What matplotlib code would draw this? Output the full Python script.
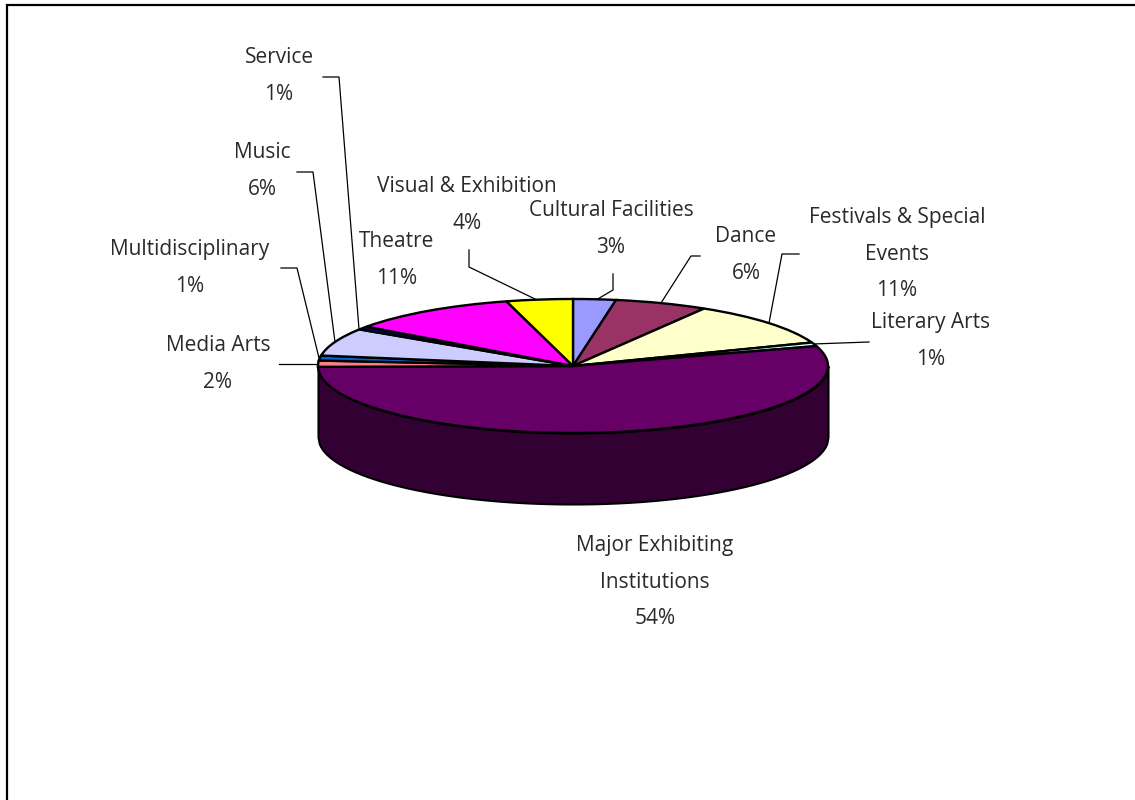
import numpy as np
import matplotlib
matplotlib.use('Agg')
import matplotlib.pyplot as plt

W, H = 1135, 800

# data, starting at 12 o'clock and going clockwise
categories = ['Cultural Facilities', 'Dance', 'Festivals & Special\nEvents', 'Literary Arts',
              'Major Exhibiting\nInstitutions', 'Media Arts', 'Multidisciplinary', 'Music',
              'Service', 'Theatre', 'Visual & Exhibition']
shares = [2.7, 5.9, 10.7, 0.9, 54.6, 1.5, 1.2, 6.7, 0.8, 10.8, 4.2]
pct_labels = [3, 6, 11, 1, 54, 2, 1, 6, 1, 11, 4]
colors = ['#9999FF', '#993366', '#FFFFCC', '#CCFFFF', '#660066', '#FF8080',
          '#0066CC', '#CCCCFF', '#000080', '#FF00FF', '#FFFF00']
wall_color = '#330033'

# layout, in pixels of the picture
label_centers = [(611, 229), (746, 255), (897, 254), (931, 341), (655, 582),
                 (218, 364), (190, 268), (262, 171), (279, 76), (397, 260), (467, 205)]
leaders = [
    [(613, 274), (613, 290), (596, 300)],
    [(700, 256), (691, 256), (661, 303)],
    [(799, 254), (782, 254), (769, 323)],
    [(869, 342), (813, 344)],
    [],
    [(279, 364), (319, 364)],
    [(281, 268), (297, 268), (319, 358)],
    [(297, 172), (313, 172), (335, 342)],
    [(323, 77), (339, 77), (359, 329)],
    [],
    [(469, 250), (469, 267), (535, 299)],
]
cx, cy, rx, ry = 573, 366, 255, 67
depth = 71

plt.rcParams['font.family'] = ['Open Sans', 'DejaVu Sans']

fig = plt.figure(figsize=(W / 100, H / 100), dpi=100)

# pixel axes for the frame, labels and leader lines
ax_px = fig.add_axes([0, 0, 1, 1])
ax_px.set_xlim(0, W)
ax_px.set_ylim(H, 0)
ax_px.axis('off')
ax_px.plot([7, 7, W], [H, 4.5, 4.5], color='black', lw=1.6, solid_joinstyle='miter')

for name, pct, (x, y), pts in zip(categories, pct_labels, label_centers, leaders):
    ax_px.text(x, y, f'{name}\n{pct}%', ha='center', va='center', fontsize=15,
               color='#2a2a2a', linespacing=1.95)
    if pts:
        xs, ys = zip(*pts)
        ax_px.plot(xs, ys, color='black', lw=0.9)

# pie axes cover the ellipse exactly, so radius 1 squashes into it
ax = fig.add_axes([(cx - rx) / W, 1 - (cy + ry) / H, 2 * rx / W, 2 * ry / H])
ax.pie(shares, colors=colors, startangle=90, counterclock=False, radius=1,
       wedgeprops={'edgecolor': 'black', 'linewidth': 1.7, 'clip_on': False, 'zorder': 3})
ax.set_aspect('auto')
ax.set_xlim(-1, 1)
ax.set_ylim(-1, 1)
ax.patch.set_visible(False)

# side wall of the big slice
t = np.linspace(-1, 1, 400)
rim = -np.sqrt(1 - t ** 2)
ax.fill_between(t, rim, rim - depth / ry, color=wall_color, edgecolor='black', linewidth=1.5,
                clip_on=False, zorder=1)

fig.savefig('out.png', dpi=100)
